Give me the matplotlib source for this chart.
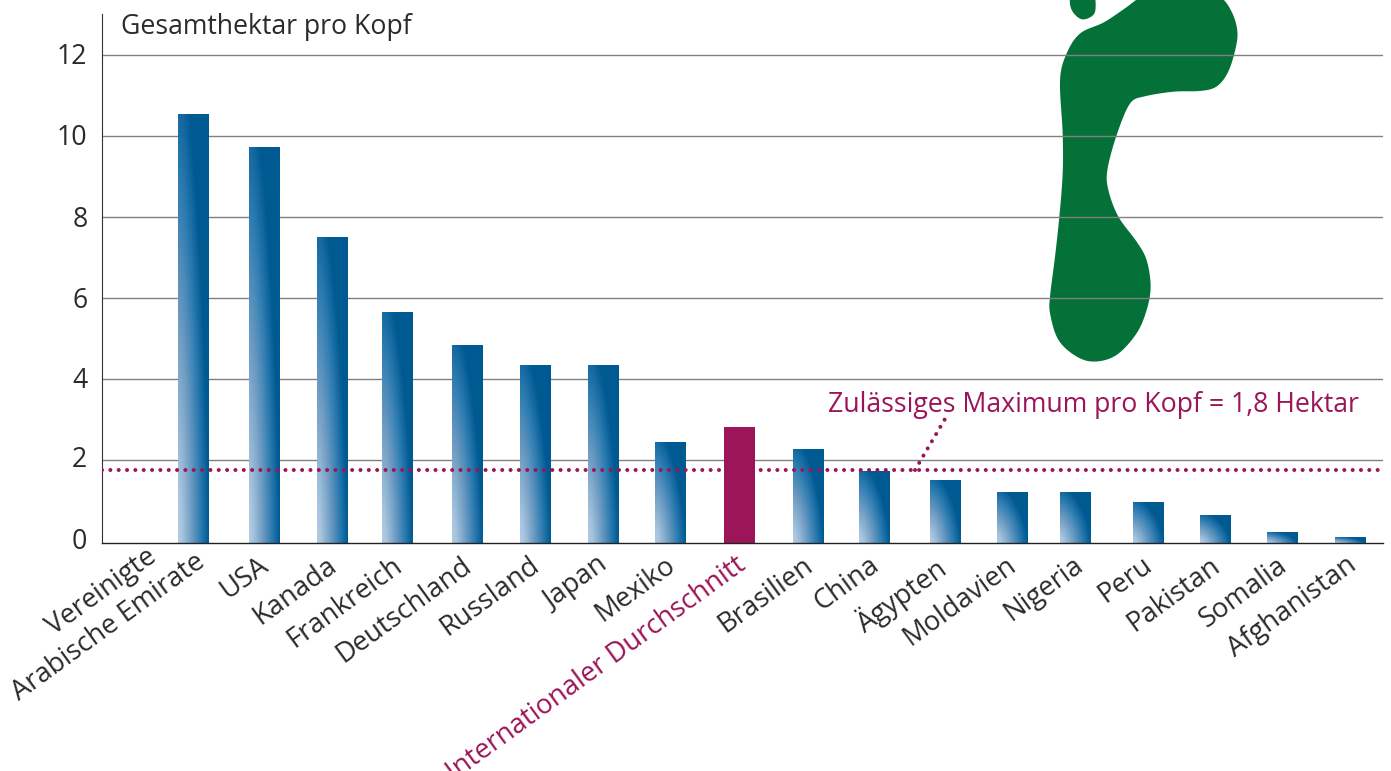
import numpy as np
import matplotlib
matplotlib.use("Agg")
import matplotlib.pyplot as plt
from matplotlib.colors import LinearSegmentedColormap
from matplotlib.path import Path
from matplotlib.patches import PathPatch
from matplotlib.transforms import Affine2D

plt.rcParams['font.family'] = ['Open Sans', 'DejaVu Sans']

countries = ["Vereinigte\nArabische Emirate", "USA", "Kanada", "Frankreich", "Deutschland", "Russland", "Japan",
             "Mexiko", "Internationaler Durchschnitt", "Brasilien", "China", "Ägypten", "Moldavien", "Nigeria",
             "Peru", "Pakistan", "Somalia", "Afghanistan"]
values = [10.54, 9.72, 7.5, 5.65, 4.83, 4.34, 4.34, 2.44, 2.81, 2.26, 1.72, 1.5, 1.2, 1.2, 0.95, 0.63, 0.21, 0.09]
y_ticks = [0, 2, 4, 6, 8, 10, 12]
limit_value = 1.75
y_title = "Gesamthektar pro Kopf"
limit_label = "Zulässiges Maximum pro Kopf = 1,8 Hektar"
highlight = "Internationaler Durchschnitt"

# layout (pixels)
W, H = 1391, 771
x_left, x_right, y_base, y_top = 102, 1383, 543, 14
y_zero = 540.7
px_per_unit = 40.5
bar_centers = [193.5, 264.5, 332.5, 397.5, 467.5, 535.5, 603.5, 670.5, 739.5, 808.5, 874.5, 945.5, 1012, 1075,
               1148.5, 1215.5, 1282.5, 1350.5]
label_nudge_x = [0, -7, -7, -6, -7, -7, -7, -6, -5, -6, -6, -11, -7, -3, -7, -6, -6, -5]
label_nudge_y = [3, 0, 0, 0, 0, 0, 0, 0, 0, 0, 0, 0, 0, 0, 0, 0, 0, 0]
ytick_nudge_y = [2, 3, 1, 0, 0, 1, 1]
bar_w = 31
PURPLE = "#9b1558"
TEXT = "#2b2b2b"
FS = 19.2
FS_X = 19.7
cmap = LinearSegmentedColormap.from_list(
    "b", [(0, "#b2cce4"), (0.12, "#a9c5df"), (0.45, "#6d9bc2"), (0.75, "#2a7ab0"), (1, "#005a92")])

fig = plt.figure(figsize=(W/100, H/100), dpi=100)
ax = fig.add_axes([x_left/W, 1-y_base/H, (x_right-x_left)/W, (y_base-y_top)/H])
ymin, ymax = (y_zero-y_base)/px_per_unit, (y_zero-y_top)/px_per_unit
ax.set_xlim(x_left, x_right)
ax.set_ylim(ymin, ymax)
px = Affine2D().scale(1, -1).translate(0, H)

# footprint decoration
def smooth(pts, n=14, win=45):
    p = np.array(pts, float)
    out = []
    for i in range(len(p)):
        a, b, c, d = p[i-1], p[i], p[(i+1) % len(p)], p[(i+2) % len(p)]
        for t in np.linspace(0, 1, n, endpoint=False):
            out.append(0.5*((2*b)+(c-a)*t+(2*a-5*b+4*c-d)*t**2+(3*b-a-3*c+d)*t**3))
    out = np.array(out)
    seg = np.hypot(*np.diff(np.vstack([out, out[0]]), axis=0).T)
    s = np.concatenate([[0], np.cumsum(seg)])
    u = np.arange(0, s[-1], 2.0)
    closed = np.vstack([out, out[0]])
    uni = np.column_stack([np.interp(u, s, closed[:, 0]), np.interp(u, s, closed[:, 1])])
    k = np.hanning(win)
    k /= k.sum()
    pad = np.vstack([uni[-win:], uni, uni[:win]])
    sm = np.column_stack([np.convolve(pad[:, j], k, mode="same") for j in (0, 1)])
    return sm[win:-win]

foot = [(350, -20), (285, 25), (220, 68), (150, 100), (110, 160), (90, 240), (98, 400), (98, 520), (88, 650),
        (75, 770), (60, 890), (60, 940), (85, 1020), (140, 1070), (195, 1085), (260, 1065), (320, 1000), (350, 930),
        (362, 860), (350, 780), (320, 725), (265, 650), (235, 570), (232, 510), (260, 405), (300, 310), (340, 290),
        (430, 275), (510, 273), (560, 260), (595, 215), (618, 140), (622, 90), (605, 35), (570, -10), (500, -30),
        (420, -30)]
toe = [(122, -10), (125, 30), (155, 58), (190, 45), (197, 15), (190, -15), (155, -25)]
for shape, w in ((foot, 25), (toe, 9)):
    xy = smooth(shape, win=w)/3 + np.array([1030, 0])
    ax.add_patch(PathPatch(Path(np.vstack([xy, xy[0]]), closed=True), fc="#047238", ec="none",
                           transform=px, clip_on=False, zorder=0.4))

ax.set_axisbelow(True)
ax.yaxis.grid(True, color="#808080", lw=1.0)
ax.xaxis.grid(False)

# bars (rise from the axis line)
colors = [PURPLE if c == highlight else "#005a92" for c in countries]
bars = ax.bar(bar_centers, np.array(values)-ymin, bottom=ymin, width=bar_w, color=colors, zorder=2)
xx, yy = np.meshgrid(np.linspace(0, 1, 64), np.linspace(0, 1, 256))
grad = np.clip(((xx/1.0)**1.6 + (yy/1.15)**1.6)**(1/1.6), 0, 1)
for b, c in zip(bars, countries):
    if c == highlight:
        continue
    im = ax.imshow(grad, origin="lower", aspect="auto", cmap=cmap, vmin=0, vmax=1, zorder=2.1,
                   extent=(b.get_x(), b.get_x()+b.get_width(), ymin, b.get_y()+b.get_height()),
                   interpolation="bilinear")
    im.set_clip_path(b)
ax.set_xlim(x_left, x_right)
ax.set_ylim(ymin, ymax)

# limit line and leader
dots = (0, (0.01, 2.06))
ax.axhline(limit_value, color=PURPLE, lw=2.9, ls=dots, dash_capstyle="round", zorder=3)
ax.plot([915, 945], [470, 419], transform=px, color=PURPLE, lw=2.9, ls=dots, dash_capstyle="round", zorder=3)
fig.text(828/W, 1-405/H, limit_label, color=PURPLE, fontsize=FS, va="center", ha="left")
fig.text(121/W, 1-27/H, y_title, color=TEXT, fontsize=FS, va="center", ha="left")

# axes
for s in ("top", "right"):
    ax.spines[s].set_visible(False)
ax.spines["left"].set_color("#333333")
ax.spines["left"].set_linewidth(0.8)
ax.spines["bottom"].set_color("#222222")
ax.spines["bottom"].set_linewidth(1.0)
ax.set_yticks(y_ticks)
ax.tick_params(axis="y", length=0, pad=10.5, labelsize=FS, labelcolor=TEXT)
ax.yaxis.get_gridlines()[0].set_visible(False)
for lab, dy in zip(ax.get_yticklabels(), ytick_nudge_y):
    lab.set_transform(lab.get_transform() + Affine2D().translate(0, dy))

first_lines = [c.split("\n")[0] if "\n" in c else "" for c in countries]
last_lines = [c.split("\n")[-1] for c in countries]
ax.set_xticks(bar_centers)
ax.set_xticklabels(last_lines)
ax.tick_params(axis="x", length=0, pad=6, labelsize=FS_X, labelcolor=TEXT)
for lab, c, dx, dy in zip(ax.get_xticklabels(), countries, label_nudge_x, label_nudge_y):
    lab.set_rotation(36)
    lab.set_rotation_mode("anchor")
    lab.set_ha("right")
    lab.set_va("top")
    lab.set_transform(lab.get_transform() + Affine2D().translate(dx, dy))
    if c == highlight:
        lab.set_color(PURPLE)
# upper line of a two-line label
fig.text(146/W, 1-543/H, first_lines[0], color=TEXT, fontsize=FS_X, rotation=36, rotation_mode="anchor",
         ha="right", va="top")

fig.savefig("out.png", dpi=100)
